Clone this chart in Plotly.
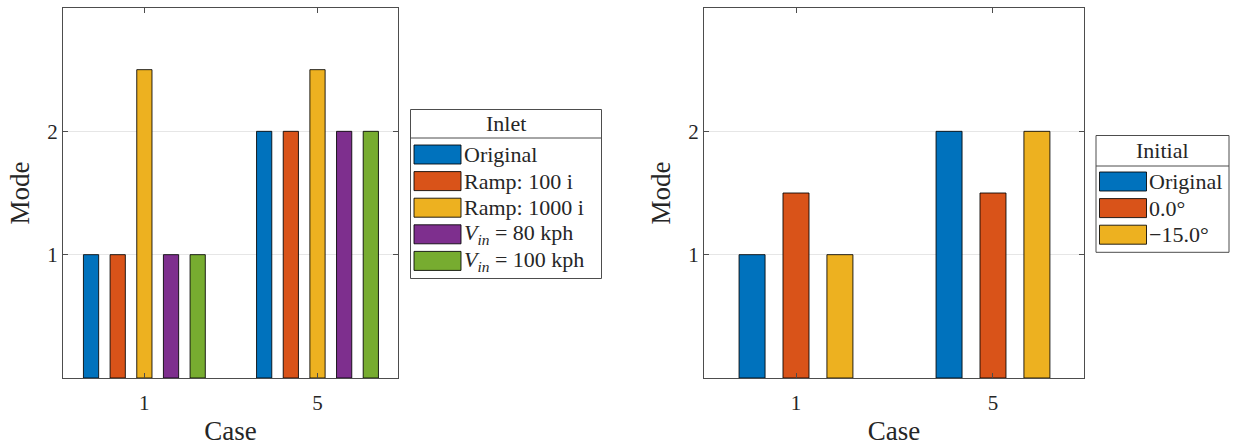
import plotly.graph_objects as go

W, H = 1233, 446

# ---------------- data ----------------
cases = ["1", "5"]

inlet_names = ["Original", "Ramp: 100 i", "Ramp: 1000 i",
               "<i>V</i><sub><i>in</i></sub> = 80 kph",
               "<i>V</i><sub><i>in</i></sub> = 100 kph"]
inlet_values = [
    [1, 2],      # Original
    [1, 2],      # Ramp: 100 i
    [2.5, 2.5],  # Ramp: 1000 i
    [1, 2],      # V_in = 80 kph
    [1, 2],      # V_in = 100 kph
]

initial_names = ["Original", "0.0°", "\u221215.0°"]
initial_values = [
    [1, 2],      # Original
    [1.5, 1.5],  # 0.0°
    [1, 2],      # -15.0°
]

colors = ["#0072BD", "#D95319", "#EDB120", "#7E2F8E", "#77AC30"]
y_ticks = [1, 2]

# ---------------- style ----------------
FONT = "'Liberation Serif', 'DejaVu Serif', serif"
TXT = "#262626"
AX = "#4d4d4d"


def px(x):
    return x / W


def py(y):
    return 1 - y / H


fig = go.Figure()


def add_group(names, values, xa, ya, slot, w):
    n = len(names)
    for i, (nm, vals) in enumerate(zip(names, values)):
        off = (i - (n - 1) / 2) * slot - w / 2
        fig.add_trace(go.Bar(
            x=cases, y=vals, name=nm, xaxis=xa, yaxis=ya,
            width=w, offset=off,
            marker=dict(color=colors[i], line=dict(color="rgba(0,0,0,0.85)", width=1)),
            showlegend=False,
        ))


add_group(inlet_names, inlet_values, "x", "y", 0.154, 0.088)
add_group(initial_names, initial_values, "x2", "y2", 0.223, 0.132)

ydom = [py(378), py(8)]
axis_common = dict(showline=True, linecolor=AX, linewidth=1, mirror="ticks",
                   ticks="inside", ticklen=5, tickcolor=AX,
                   tickfont=dict(family=FONT, size=21, color=TXT), zeroline=False)

xtitle = dict(text="Case", font=dict(family=FONT, size=27, color=TXT), standoff=8)
ytitle = dict(text="Mode", font=dict(family=FONT, size=27, color=TXT), standoff=9)

fig.update_layout(
    width=W, height=H, margin=dict(l=0, r=0, t=0, b=0),
    paper_bgcolor="white", plot_bgcolor="white",
    barmode="overlay", showlegend=False,
    font=dict(family=FONT, color=TXT),
    xaxis=dict(domain=[px(63), px(398)], type="category", range=[-0.47, 1.465],
               anchor="y", showgrid=False, ticklabelstandoff=6, title=xtitle,
               **axis_common),
    yaxis=dict(domain=ydom, range=[0, 3], tickvals=y_ticks, anchor="x",
               showgrid=True, gridcolor="#e6e6e6", gridwidth=1, title=ytitle,
               **axis_common),
    xaxis2=dict(domain=[px(704), px(1084)], type="category", range=[-0.467, 1.462],
                anchor="y2", showgrid=False, ticklabelstandoff=6, title=xtitle,
                **axis_common),
    yaxis2=dict(domain=ydom, range=[0, 3], tickvals=y_ticks, anchor="x2",
                showgrid=True, gridcolor="#e6e6e6", gridwidth=1, title=ytitle,
                **axis_common),
)


# ---------------- manual legends (MATLAB style) ----------------
def add_legend(title, names, left, right, top, sep, first_sw_top, pitch, text_x):
    n = len(names)
    bottom = first_sw_top + n * pitch + 0.5
    fig.add_shape(type="rect", xref="paper", yref="paper",
                  x0=px(left), x1=px(right), y0=py(bottom), y1=py(top),
                  line=dict(color=AX, width=1), fillcolor="white", layer="above")
    fig.add_shape(type="line", xref="paper", yref="paper",
                  x0=px(left), x1=px(right), y0=py(sep), y1=py(sep),
                  line=dict(color=AX, width=1), layer="above")
    fig.add_annotation(x=px((left + right) / 2), y=py((top + sep) / 2), xref="paper", yref="paper",
                       text=title, showarrow=False, xanchor="center", yanchor="middle",
                       font=dict(family=FONT, size=22, color=TXT))
    for i, nm in enumerate(names):
        t = first_sw_top + i * pitch
        fig.add_shape(type="rect", xref="paper", yref="paper",
                      x0=px(left + 3.5), x1=px(left + 50.5), y0=py(t + 19), y1=py(t),
                      fillcolor=colors[i], line=dict(color="rgba(0,0,0,0.85)", width=1),
                      layer="above")
        fig.add_annotation(x=px(text_x), y=py(t + 9.5), xref="paper", yref="paper",
                           text=nm, showarrow=False, xanchor="left", yanchor="middle",
                           xshift=-2, font=dict(family=FONT, size=22, color=TXT))


add_legend("Inlet", inlet_names, 410.5, 601.5, 109.5, 138, 145, 26.6, 464)
add_legend("Initial", initial_names, 1096, 1229, 135.5, 166, 172, 26.6, 1149)

fig.write_html("out.html")
